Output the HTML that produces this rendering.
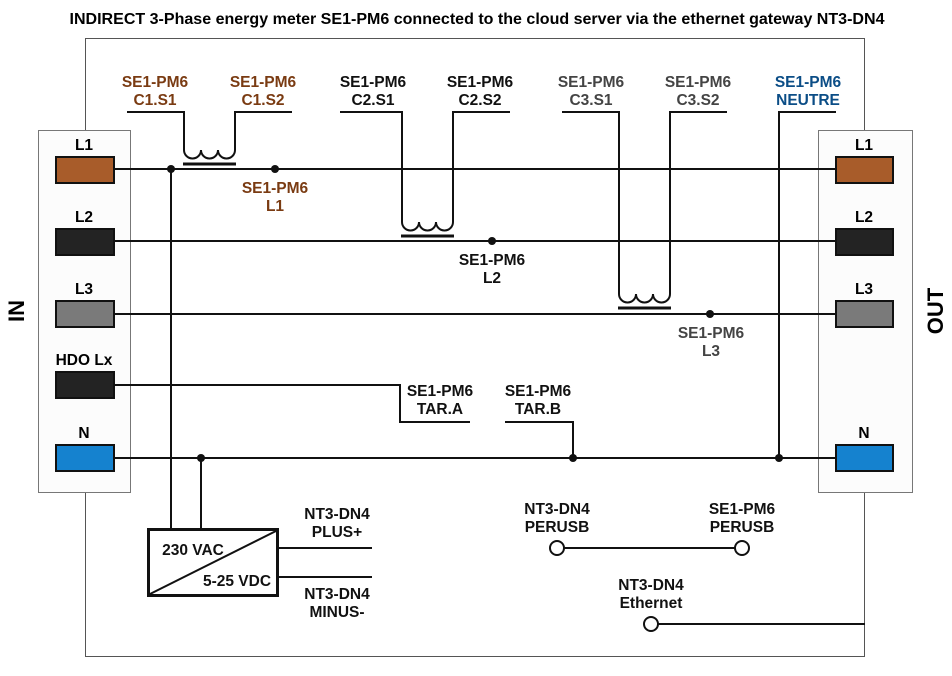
<!DOCTYPE html>
<html><head><meta charset="utf-8"><style>
body{margin:0;background:#fff}
svg{display:block}
text{font-family:"Liberation Sans",Arial,sans-serif;font-weight:bold;text-anchor:middle}
</style></head><body>
<svg width="952" height="676" viewBox="0 0 952 676" xmlns="http://www.w3.org/2000/svg" style="font-size:15.5px">
<text x="477" y="24" style="font-size:15.3px" textLength="815" lengthAdjust="spacingAndGlyphs">INDIRECT 3-Phase energy meter SE1-PM6 connected to the cloud server via the ethernet gateway NT3-DN4</text>
<rect x="85.5" y="38.5" width="779" height="618" fill="none" stroke="#555" stroke-width="1"/>
<rect x="38.5" y="130.5" width="92" height="362" fill="#fcfcfc" stroke="#777" stroke-width="1"/>
<rect x="818.5" y="130.5" width="94" height="362" fill="#fcfcfc" stroke="#777" stroke-width="1"/>
<g stroke="#111" stroke-width="2" fill="none">
<path d="M115 169H836M115 241H836M115 314H836M115 458H836"/>
<path d="M115 385H400V422H470M505 422H573V458"/>
<path d="M171 169V528M201 458V528"/>
<path d="M127 112H184V150a8.5 8.5 0 0 0 17 0a8.5 8.5 0 0 0 17 0a8.5 8.5 0 0 0 17 0V112H292"/>
<path d="M340 112H402V222a8.5 8.5 0 0 0 17 0a8.5 8.5 0 0 0 17 0a8.5 8.5 0 0 0 17 0V112H510"/>
<path d="M562 112H619V294a8.5 8.5 0 0 0 17 0a8.5 8.5 0 0 0 17 0a8.5 8.5 0 0 0 17 0V112H727"/>
<path d="M836 112H779V458"/>
<path d="M278 548H372M278 577H372M564 548H735M658 624H865"/>
</g>
<g stroke="#111" stroke-width="3">
<path d="M183 164H236M401 236H454M618 308H671"/>
</g>
<rect x="148.5" y="529.5" width="129" height="66" fill="none" stroke="#111" stroke-width="3"/>
<path d="M150 594L276 531" stroke="#111" stroke-width="2"/>
<g fill="#111">
<circle cx="171" cy="169" r="4"/><circle cx="275" cy="169" r="4"/><circle cx="492" cy="241" r="4"/><circle cx="710" cy="314" r="4"/>
<circle cx="201" cy="458" r="4"/><circle cx="573" cy="458" r="4"/><circle cx="779" cy="458" r="4"/>
</g>
<g fill="#fff" stroke="#111" stroke-width="2">
<circle cx="557" cy="548" r="7"/><circle cx="742" cy="548" r="7"/><circle cx="651" cy="624" r="7"/>
</g>
<g stroke="#111" stroke-width="2">
<rect x="56" y="157" width="58" height="26" fill="#a85c2a"/>
<rect x="56" y="229" width="58" height="26" fill="#232323"/>
<rect x="56" y="301" width="58" height="26" fill="#7a7a7a"/>
<rect x="56" y="372" width="58" height="26" fill="#232323"/>
<rect x="56" y="445" width="58" height="26" fill="#1582cf"/>
<rect x="836" y="157" width="57" height="26" fill="#a85c2a"/>
<rect x="836" y="229" width="57" height="26" fill="#232323"/>
<rect x="836" y="301" width="57" height="26" fill="#7a7a7a"/>
<rect x="836" y="445" width="57" height="26" fill="#1582cf"/>
</g>
<g>
<text x="84" y="150">L1</text><text x="84" y="222">L2</text><text x="84" y="294">L3</text><text x="84" y="365">HDO Lx</text><text x="84" y="438">N</text>
<text x="864" y="150">L1</text><text x="864" y="222">L2</text><text x="864" y="294">L3</text><text x="864" y="438">N</text>
</g>
<text x="0" y="0" style="font-size:22px" transform="translate(24 311) rotate(-90)">IN</text>
<text x="0" y="0" style="font-size:22px" transform="translate(943 311) rotate(-90)">OUT</text>
<g fill="#7a3b12">
<text x="155" y="87">SE1-PM6</text><text x="155" y="105">C1.S1</text>
<text x="263" y="87">SE1-PM6</text><text x="263" y="105">C1.S2</text>
<text x="275" y="193">SE1-PM6</text><text x="275" y="211">L1</text>
</g>
<g fill="#111">
<text x="373" y="87">SE1-PM6</text><text x="373" y="105">C2.S1</text>
<text x="480" y="87">SE1-PM6</text><text x="480" y="105">C2.S2</text>
<text x="492" y="265">SE1-PM6</text><text x="492" y="283">L2</text>
<text x="440" y="396">SE1-PM6</text><text x="440" y="414">TAR.A</text>
<text x="538" y="396">SE1-PM6</text><text x="538" y="414">TAR.B</text>
<text x="337" y="519">NT3-DN4</text><text x="337" y="537">PLUS+</text>
<text x="337" y="599">NT3-DN4</text><text x="337" y="617">MINUS-</text>
<text x="557" y="514">NT3-DN4</text><text x="557" y="532">PERUSB</text>
<text x="742" y="514">SE1-PM6</text><text x="742" y="532">PERUSB</text>
<text x="651" y="590">NT3-DN4</text><text x="651" y="608">Ethernet</text>
<text x="193" y="555">230 VAC</text>
<text x="237" y="586">5-25 VDC</text>
</g>
<g fill="#444">
<text x="591" y="87">SE1-PM6</text><text x="591" y="105">C3.S1</text>
<text x="698" y="87">SE1-PM6</text><text x="698" y="105">C3.S2</text>
<text x="711" y="338">SE1-PM6</text><text x="711" y="356">L3</text>
</g>
<g fill="#0b4d86">
<text x="808" y="87">SE1-PM6</text><text x="808" y="105">NEUTRE</text>
</g>
</svg>
</body></html>
